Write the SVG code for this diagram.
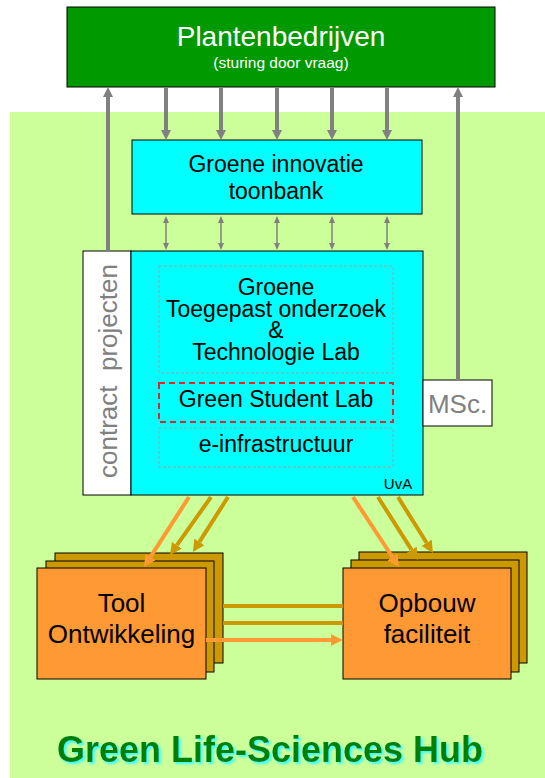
<svg xmlns="http://www.w3.org/2000/svg" width="545" height="778" viewBox="0 0 545 778">
<style>
text{font-family:"Liberation Sans",Arial,sans-serif}
.box{stroke:#000;stroke-width:1}
.dash{fill:none;stroke:#A0A0A0;stroke-width:1;stroke-dasharray:3,2}
.t23{font-size:23px;fill:#000;text-anchor:middle}
.t26{font-size:26px;fill:#000;text-anchor:middle}
.gl{stroke:#808080;stroke-width:4;fill:none}
.gs{stroke:#808080;stroke-width:1.5;fill:none}
.ol{stroke:#FF9933;stroke-width:4;fill:none}
.dl{stroke:#CC9900;stroke-width:4;fill:none}
</style>
<defs>
<marker id="ag" markerUnits="userSpaceOnUse" markerWidth="10" markerHeight="10" refX="0" refY="5" orient="auto"><path d="M0,0L10,5L0,10z" fill="#808080"/></marker>
<marker id="as" markerUnits="userSpaceOnUse" markerWidth="7" markerHeight="6" refX="0" refY="3" orient="auto-start-reverse"><path d="M0,0L7,3L0,6z" fill="#808080"/></marker>
<marker id="ao" markerUnits="userSpaceOnUse" markerWidth="12" markerHeight="12" refX="0" refY="6" orient="auto"><path d="M0,0L12,6L0,12z" fill="#FF9933"/></marker>
<marker id="ad" markerUnits="userSpaceOnUse" markerWidth="12" markerHeight="12" refX="0" refY="6" orient="auto"><path d="M0,0L12,6L0,12z" fill="#CC9900"/></marker>
<filter id="sh" x="-5%" y="-30%" width="110%" height="160%">
<feOffset in="SourceAlpha" dx="2" dy="2" result="o"/>
<feGaussianBlur in="o" stdDeviation="1" result="b"/>
<feFlood flood-color="#33FFFF"/>
<feComposite in2="b" operator="in" result="s"/>
<feMerge><feMergeNode in="s"/><feMergeNode in="SourceGraphic"/></feMerge>
</filter>
</defs>
<rect x="10" y="112" width="535" height="666" fill="#CCFF99"/>

<g id="plantenbedrijven">
<rect class="box" x="67" y="7" width="428" height="80" fill="#009900"/>
<text x="281" y="46" style="font-size:28px;fill:#fff;text-anchor:middle">Plantenbedrijven</text>
<text x="281" y="68" style="font-size:15.5px;fill:#fff;text-anchor:middle">(sturing door vraag)</text>
</g>

<g id="toonbank">
<rect class="box" x="132" y="140" width="290" height="74" fill="#00FFFF"/>
<text class="t23" x="276" y="172">Groene innovatie</text>
<text class="t23" x="276" y="199">toonbank</text>
</g>

<g id="contract">
<rect class="box" x="83" y="251" width="48" height="244" fill="#fff"/>
<text transform="translate(117,371) rotate(-90)" xml:space="preserve" style="font-size:26px;fill:#808080;text-anchor:middle">contract  projecten</text>
</g>

<g id="uva">
<rect class="box" x="131" y="251" width="292" height="244" fill="#00FFFF"/>
<text x="398" y="489" style="font-size:15px;fill:#000;text-anchor:middle">UvA</text>
</g>

<g id="lab">
<rect class="dash" x="159" y="266" width="234" height="107"/>
<text class="t23" x="276" y="295">Groene</text>
<text class="t23" x="276" y="317">Toegepast onderzoek</text>
<text class="t23" x="276" y="338">&amp;</text>
<text class="t23" x="276" y="360">Technologie Lab</text>
</g>

<g id="student">
<rect x="159" y="383" width="234" height="39" fill="none" stroke="#E8222A" stroke-width="2" stroke-dasharray="6,4"/>
<text class="t23" x="276" y="407">Green Student Lab</text>
</g>

<g id="einfra">
<rect class="dash" x="159" y="428" width="234" height="39"/>
<text class="t23" x="276" y="452">e-infrastructuur</text>
</g>

<g id="msc">
<rect class="box" x="423" y="380" width="69" height="46" fill="#fff"/>
<text x="457.5" y="413" style="font-size:26px;fill:#808080;text-anchor:middle">MSc.</text>
</g>

<g id="tool">
<rect class="box" x="55" y="553" width="168" height="110" fill="#CC9900"/>
<rect class="box" x="46" y="561" width="168" height="111" fill="#CC9900"/>
<rect class="box" x="37" y="568" width="169" height="111" fill="#FF9933"/>
<text class="t26" x="121.5" y="612">Tool</text>
<text class="t26" x="121.5" y="643">Ontwikkeling</text>
</g>

<g id="opbouw">
<rect class="box" x="359" y="552" width="168" height="111" fill="#CC9900"/>
<rect class="box" x="351" y="560" width="168" height="112" fill="#CC9900"/>
<rect class="box" x="343" y="568" width="168" height="111" fill="#FF9933"/>
<text class="t26" x="427" y="612">Opbouw</text>
<text class="t26" x="427" y="643">faciliteit</text>
</g>

<g id="connectors">
<line class="gl" x1="166" y1="87" x2="166" y2="130" marker-end="url(#ag)"/>
<line class="gl" x1="221" y1="87" x2="221" y2="130" marker-end="url(#ag)"/>
<line class="gl" x1="277" y1="87" x2="277" y2="130" marker-end="url(#ag)"/>
<line class="gl" x1="332" y1="87" x2="332" y2="130" marker-end="url(#ag)"/>
<line class="gl" x1="387" y1="87" x2="387" y2="130" marker-end="url(#ag)"/>
<line class="gl" x1="108" y1="251" x2="108" y2="97" marker-end="url(#ag)"/>
<line class="gl" x1="458" y1="380" x2="458" y2="97" marker-end="url(#ag)"/>
<line class="gs" x1="166" y1="223" x2="166" y2="243" marker-start="url(#as)" marker-end="url(#as)"/>
<line class="gs" x1="221" y1="223" x2="221" y2="243" marker-start="url(#as)" marker-end="url(#as)"/>
<line class="gs" x1="277" y1="223" x2="277" y2="243" marker-start="url(#as)" marker-end="url(#as)"/>
<line class="gs" x1="332" y1="223" x2="332" y2="243" marker-start="url(#as)" marker-end="url(#as)"/>
<line class="gs" x1="387" y1="223" x2="387" y2="243" marker-start="url(#as)" marker-end="url(#as)"/>
<line class="ol" x1="189" y1="497" x2="150.5" y2="556.9" marker-end="url(#ao)"/>
<line class="dl" x1="211" y1="497" x2="176.9" y2="545.2" marker-end="url(#ad)"/>
<line class="dl" x1="228" y1="497" x2="199.4" y2="541.9" marker-end="url(#ad)"/>
<line class="ol" x1="353" y1="497" x2="392.4" y2="557" marker-end="url(#ao)"/>
<line class="dl" x1="378" y1="497" x2="411.6" y2="549.9" marker-end="url(#ad)"/>
<line class="dl" x1="398" y1="497" x2="426.6" y2="542.8" marker-end="url(#ad)"/>
<line class="dl" x1="223" y1="606" x2="343" y2="606"/>
<line class="dl" x1="223" y1="623" x2="343" y2="623"/>
<line class="ol" x1="206" y1="640" x2="331" y2="640" marker-end="url(#ao)"/>
</g>

<g id="title">
<text x="270" y="762" filter="url(#sh)" style="font-size:36px;font-weight:bold;fill:#008000;text-anchor:middle">Green Life-Sciences Hub</text>
</g>
</svg>
